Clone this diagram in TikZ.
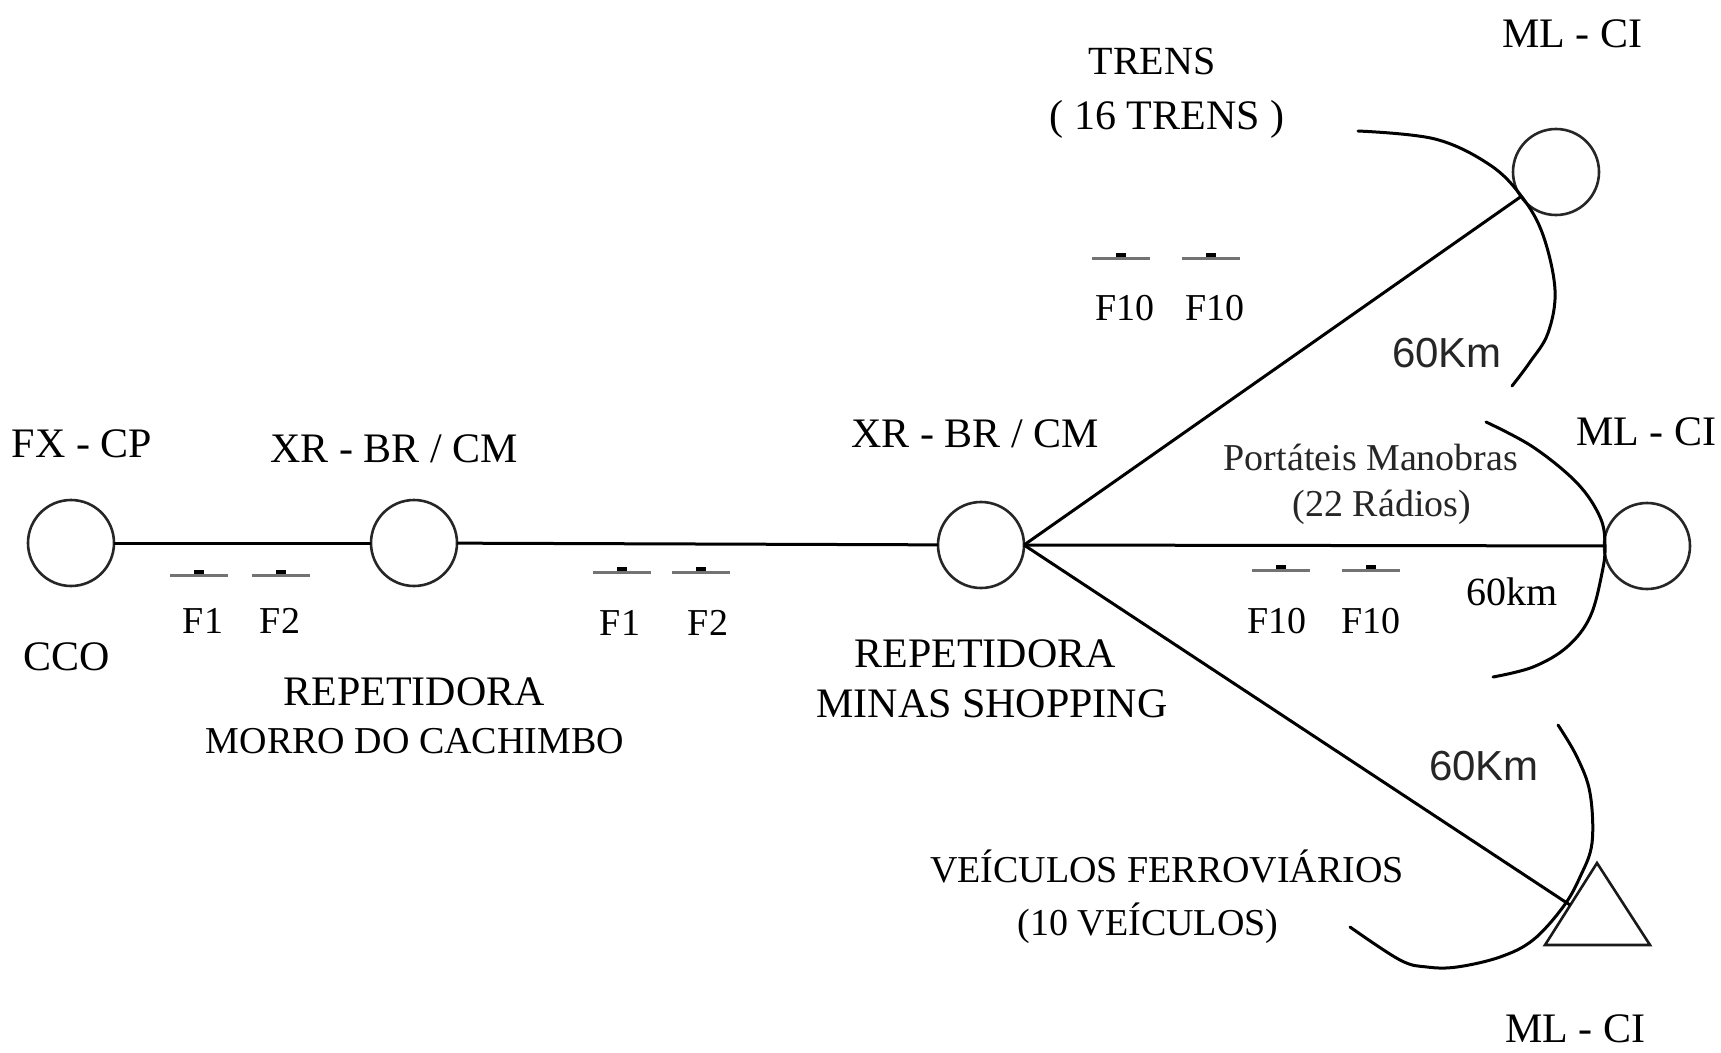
\documentclass[tikz,border=0pt]{standalone}
\usepackage{fontspec}
\setmainfont{Liberation Serif}
\newfontfamily\sansf{Liberation Sans}
\begin{document}
\begin{tikzpicture}[x=1pt,y=-1pt,
  stn/.style={circle, draw=black!85, line width=2.6pt, minimum size=86pt, inner sep=0pt, outer sep=0pt},
  wire/.style={line width=3pt, black},
  arcline/.style={line width=3pt, black, line cap=round},
  lbl/.style={font=\fontsize{42}{46}\selectfont, inner sep=0pt, anchor=base, text=black},
  lbls/.style={font=\fontsize{38}{42}\selectfont, inner sep=0pt, anchor=base, text=black},
  flbl/.style={font=\fontsize{38}{42}\selectfont, inner sep=0pt, anchor=base, text=black},
  port/.style={font=\fontsize{38}{42}\selectfont, inner sep=0pt, anchor=base, text=black!85},
  km/.style={font=\sansf\fontsize{42}{46}\selectfont, inner sep=0pt, anchor=base, text=black!85},
  fsym/.pic={\draw[line width=3pt, black!55] (-29,0) -- (29,0);
             \fill[black] (-5,-1) rectangle (5,-5);}
]
\useasboundingbox (0,0) rectangle (1721,1052);
\fill[white] (0,0) rectangle (1721,1052);

% stations
\node[stn] (cco) at (71,543) {};
\node[stn] (mc) at (414,543) {};
\node[stn] (ms) at (981,545) {};
\node[stn] (mlt) at (1556,172) {};
\node[stn] (mlm) at (1647,546) {};
\draw[line width=2.6pt, black!90, line join=miter] (1597,863) -- (1650,945) -- (1545,945) -- cycle;
\coordinate (tri) at (1570,905);

% connectors
\draw[wire] (cco) -- (mc);
\draw[wire] (mc) -- (ms);
\draw[wire] (ms.east) -- (mlt);
\draw[wire] (ms.east) -- (mlm);
\draw[wire] (ms.east) -- (tri);

% range arcs
\draw[arcline] plot[smooth, tension=0.6] coordinates {(1358,131) (1435,139) (1490,165) (1522,197) (1543,235) (1555,290) (1548,333) (1530,362) (1512,386)};
\draw[arcline] plot[smooth, tension=0.6] coordinates {(1486,422) (1533,447) (1577,483) (1600,517) (1605,545) (1602,573) (1590,617) (1567,647) (1533,667) (1493,677)};
\draw[arcline] plot[smooth, tension=0.6] coordinates {(1558,725) (1577,757) (1590,793) (1592,843) (1580,877) (1563,907) (1533,940) (1500,957) (1457,967) (1427,967) (1400,960) (1350,927)};

% frequency symbols
\pic at (199,575) {fsym};
\pic at (281,575) {fsym};
\pic at (622,572) {fsym};
\pic at (701,572) {fsym};
\pic at (1121,258) {fsym};
\pic at (1211,258) {fsym};
\pic at (1281,570) {fsym};
\pic at (1371,570) {fsym};

% labels
\node[lbl] (fxcp) at (82,457) {FX - CP};
\node[lbl] (ccol) at (67,670) {CCO};
\node[lbl] (xr1) at (394,462) {XR - BR / CM};
\node[flbl] (f1a) at (203,633) {F1};
\node[flbl] (f2a) at (280,633) {F2};
\node[lbl] (rep1) at (414,705) {REPETIDORA};
\node[lbls] (mor) at (415,753) {MORRO DO CACHIMBO};
\node[flbl] (f1b) at (620,635) {F1};
\node[flbl] (f2b) at (708,635) {F2};
\node[lbl] (xr2) at (975,447) {XR - BR / CM};
\node[lbl] (rep2) at (985,667) {REPETIDORA};
\node[lbl] (mins) at (992,717) {MINAS SHOPPING};
\node[lbl, font=\fontsize{40}{44}\selectfont] (tr) at (1152,74) {TRENS};
\node[lbl] (tr16) at (1167,129) {( 16 TRENS )};
\node[lbl] (mlct) at (1572,47) {ML - CI};
\node[flbl] (f10a) at (1125,320) {F10};
\node[flbl] (f10b) at (1215,320) {F10};
\node[km] (km1) at (1447,367) {60Km};
\node[lbl] (mlcm) at (1646,445) {ML - CI};
\node[port] (port) at (1371,470) {Portáteis Manobras};
\node[port] (r22) at (1382,516) {(22 Rádios)};
\node[flbl] (f10c) at (1277,633) {F10};
\node[flbl] (f10d) at (1371,633) {F10};
\node[lbl, font=\fontsize{40}{44}\selectfont] (km2) at (1512,605) {60km};
\node[km] (km3) at (1484,780) {60Km};
\node[lbls] (vf) at (1167,882) {VEÍCULOS FERROVIÁRIOS};
\node[lbls] (v10) at (1148,935) {(10 VEÍCULOS)};
\node[lbl] (mlcb) at (1575,1042) {ML - CI};
\end{tikzpicture}
\end{document}
